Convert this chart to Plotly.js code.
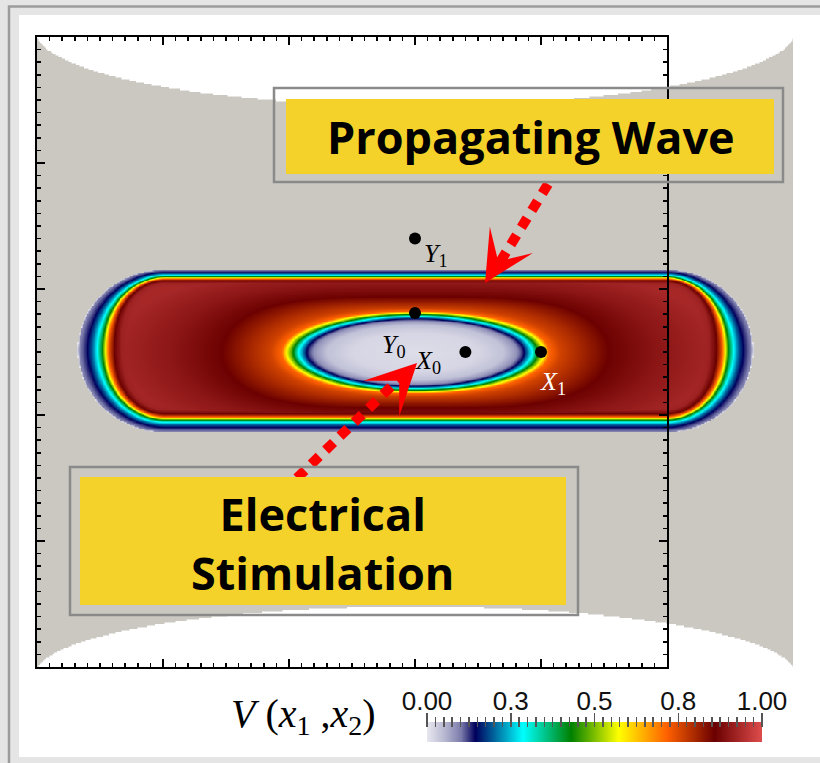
<!DOCTYPE html>
<html>
<head>
<meta charset="utf-8">
<script src="https://cdn.plot.ly/plotly-3.0.1.min.js"></script>
<style>
  html, body { margin: 0; padding: 0; background: #e5e5e5; }
  #chart { width: 820px; height: 763px; }
</style>
</head>
<body>
<div id="chart"></div>
<script>
// ---------------- field description (model units) ----------------
const DOMAIN_X = [0, 6];
const DOMAIN_Y = [0, 5];
const STEP = 0.0125;
// value used for points that lie outside the tissue sheet
const OUTSIDE = -0.1;

// curved notches cut from the top and bottom edges of the sheet: centre x, centre y, semi-axis x, semi-axis y
const TOP_NOTCH = [3.0, 5.053, 3.016, 0.594];
const BOTTOM_NOTCH = [3.0, -0.056, 3.016, 0.54];

// outer (propagating) front: stadium outline of its leading edge
const FRONT_CENTER = [3.0, 2.52];
const FRONT_HALF_HEIGHT = 0.615;
const FRONT_HALF_STRAIGHT = 1.988;
const FRONT_WIDTH_ENDS = 1.0;
const FRONT_WIDTH_TOP = 0.3;
const FRONT_WIDTH_BOTTOM = 0.5;
// potential across the front vs. depth behind the leading edge
const frontDepth = [-0.1, -0.075, -0.07, -0.04, 0.0, 0.04, 0.079, 0.119, 0.143, 0.167, 0.19, 0.214, 0.278, 0.4];
const frontV     = [0.0,  0.0,    0.09,  0.11, 0.14, 0.2, 0.285, 0.43, 0.57, 0.71, 0.79, 0.86, 0.92, 0.93];

// recovered core around the stimulation site (elliptical ring)
const CORE_CENTER = [3.0, 2.5];
const CORE_AXES = [1.0, 0.31];
const CORE_GROWTH_Y = 0.24;
// potential vs. offset from the ring
const coreOffset = [-1.0, -0.5, -0.3, -0.2, -0.14, -0.075, -0.03, 0.02, 0.06, 0.15, 0.35, 0.55, 0.9, 1.4];
const coreV      = [0.012, 0.02, 0.04, 0.08, 0.14, 0.285, 0.43, 0.57, 0.71, 0.76, 0.81, 0.86, 0.895, 0.93];

// probe points
const pointX = [3.0, 3.0, 3.4, 4.0];
const pointY = [3.4, 2.81, 2.5, 2.5];
const pointLabel = ['<i>Y</i><sub>1</sub>', '<i>Y</i><sub>0</sub>', '<i>X</i><sub>0</sub>', '<i>X</i><sub>1</sub>'];

// colour bar ticks
const barTickVals = [0, 0.25, 0.5, 0.75, 1.0];
const barTickText = ['0.00', '0.3', '0.5', '0.8', '1.00'];

// ---------------- colour map ----------------
const rainbow = [
  [0.0, '#e6e6ee'], [0.05, '#b8b8d2'], [0.1, '#7c7cac'], [0.143, '#00005c'],
  [0.214, '#0080ae'], [0.285, '#00ffff'], [0.429, '#008000'], [0.571, '#ffff00'],
  [0.714, '#ff6100'], [0.857, '#6b0000'], [1.0, '#e04d4d']
];
// field scale spans [OUTSIDE, 1]: blank paper outside the sheet, neutral sheet colour at rest (V = 0)
const ZMIN = OUTSIDE, ZMAX = 1;
const norm = v => (v - ZMIN) / (ZMAX - ZMIN);
const fieldScale = [[0, '#ffffff'], [norm(0), '#cac8c0'], [norm(0.003), '#e6e6ee']]
  .concat(rainbow.slice(1).map(s => [norm(s[0]), s[1]]));

// ---------------- helpers ----------------
function lookup(xs, ys, v) {
  if (v <= xs[0]) return ys[0];
  for (let k = 1; k < xs.length; k++) {
    if (v <= xs[k]) {
      const f = (v - xs[k - 1]) / (xs[k] - xs[k - 1]);
      return ys[k - 1] + f * (ys[k] - ys[k - 1]);
    }
  }
  return ys[ys.length - 1];
}
function inNotch(n, x, y) {
  const u = (x - n[0]) / n[2], w = (y - n[1]) / n[3];
  return u * u + w * w < 1;
}
function frontDepthAt(x, y) {
  const dx = Math.abs(x - FRONT_CENTER[0]);
  const dy = y - FRONT_CENTER[1];
  const wtb = dy > 0 ? FRONT_WIDTH_TOP : FRONT_WIDTH_BOTTOM;
  if (dx <= FRONT_HALF_STRAIGHT) return (FRONT_HALF_HEIGHT - Math.abs(dy)) / wtb;
  const ex = dx - FRONT_HALF_STRAIGHT;
  const rho = Math.hypot(ex, dy);
  const c2 = rho > 0 ? (ex * ex) / (rho * rho) : 1;
  const w = FRONT_WIDTH_ENDS * c2 + wtb * (1 - c2);
  return (FRONT_HALF_HEIGHT - rho) / w;
}
function coreOffsetAt(x, y) {
  const dx = Math.abs(x - CORE_CENTER[0]);
  const dy = Math.abs(y - CORE_CENTER[1]);
  const r = Math.hypot(dx / CORE_AXES[0], dy / CORE_AXES[1]);
  if (r <= 1) return r - 1;
  // nested level curves that widen and square off away from the ring
  const f = t => {
    const a = CORE_AXES[0] + t, b = CORE_AXES[1] + CORE_GROWTH_Y * t;
    const p = 2 + 4 * Math.min(t, 0.5);
    return Math.pow(dx / a, p) + (dy / b) * (dy / b) - 1;
  };
  let lo = 0, hi = 6;
  for (let k = 0; k < 34; k++) {
    const mid = 0.5 * (lo + hi);
    if (f(mid) > 0) lo = mid; else hi = mid;
  }
  return 0.5 * (lo + hi);
}

// ---------------- sample the field ----------------
const xs = [], ys = [];
const nx = Math.round((DOMAIN_X[1] - DOMAIN_X[0]) / STEP);
const ny = Math.round((DOMAIN_Y[1] - DOMAIN_Y[0]) / STEP);
for (let i = 0; i <= nx; i++) xs.push(DOMAIN_X[0] + i * STEP);
for (let j = 0; j <= ny; j++) ys.push(DOMAIN_Y[0] + j * STEP);
const z = ys.map(y => xs.map(x => {
  if (inNotch(TOP_NOTCH, x, y) || inNotch(BOTTOM_NOTCH, x, y)) return OUTSIDE;
  const vFront = lookup(frontDepth, frontV, frontDepthAt(x, y));
  if (vFront <= 0) return 0;
  const vCore = lookup(coreOffset, coreV, coreOffsetAt(x, y));
  return Math.min(vFront, vCore);
}));

// ---------------- page geometry ----------------
const W = 820, H = 763;
const PX = v => v / W;
const PY = v => 1 - v / H;

const traces = [
  {
    type: 'heatmap', x: xs, y: ys, z: z,
    colorscale: fieldScale, zmin: ZMIN, zmax: ZMAX, zsmooth: 'best',
    showscale: false, hoverinfo: 'skip', xaxis: 'x', yaxis: 'y'
  },
  {
    type: 'scatter', mode: 'markers', x: pointX, y: pointY,
    marker: { size: 12, color: '#000000' },
    hoverinfo: 'skip', xaxis: 'x2', yaxis: 'y2'
  },
  {
    type: 'heatmap', x: [0, 1], y: [0, 1], z: [[0, 1], [0, 1]],
    colorscale: rainbow, zmin: 0, zmax: 1, zsmooth: 'best',
    showscale: false, hoverinfo: 'skip', xaxis: 'x3', yaxis: 'y3'
  }
];

const boxAxis = {
  range: [0, 5], showline: true, linecolor: '#000000', linewidth: 2,
  mirror: 'allticks', ticks: 'inside', ticklen: 8, tickwidth: 2, tickcolor: '#000000',
  tick0: 0, dtick: 1, showticklabels: false, showgrid: false, zeroline: false,
  minor: { ticks: 'inside', tick0: 0, dtick: 0.1, ticklen: 4, tickwidth: 1.5, tickcolor: '#000000', showgrid: false }
};

const labelShift = [[7, -16], [-35, -33], [-52, -10], [-3, -31]];
const labelColor = ['#000000', '#000000', '#000000', '#ffffff'];

const annotations = pointLabel.map((t, i) => ({
  xref: 'x2', yref: 'y2', x: pointX[i], y: pointY[i], text: t, showarrow: false,
  xanchor: 'left', yanchor: 'middle', xshift: labelShift[i][0], yshift: labelShift[i][1],
  font: { family: 'Liberation Serif', size: 26, color: labelColor[i] }
}));

annotations.push(
  { xref: 'paper', yref: 'paper', x: PX(531), y: PY(136), text: '<b>Propagating Wave</b>', showarrow: false,
    xanchor: 'center', yanchor: 'middle', font: { family: 'Open Sans', size: 45, color: '#000000' } },
  { xref: 'paper', yref: 'paper', x: PX(322), y: PY(543), text: '<b>Electrical</b><br><b>Stimulation</b>', showarrow: false,
    xanchor: 'center', yanchor: 'middle', font: { family: 'Open Sans', size: 45, color: '#000000' } },
  { xref: 'paper', yref: 'paper', x: PX(303), y: PY(716),
    text: '<i>V</i> (<i>x</i><sub>1</sub> ,<i>x</i><sub>2</sub>)', showarrow: false,
    xanchor: 'center', yanchor: 'middle', font: { family: 'Liberation Serif', size: 40, color: '#000000' } },
  // arrow heads
  { xref: 'x', yref: 'y', x: 3.016, y: 2.413, ax: -15, ay: 15, text: '', showarrow: true,
    arrowhead: 3, arrowsize: 2.8, arrowwidth: 3, arrowcolor: '#ff0000' },
  { xref: 'x', yref: 'y', x: 3.556, y: 3.048, ax: 11, ay: -18, text: '', showarrow: true,
    arrowhead: 3, arrowsize: 2.8, arrowwidth: 3, arrowcolor: '#ff0000' }
);

const shapes = [
  { type: 'rect', xref: 'paper', yref: 'paper', x0: PX(19), x1: PX(900), y0: PY(757), y1: PY(15),
    fillcolor: '#ffffff', line: { width: 0 }, layer: 'below' },
  { type: 'rect', xref: 'paper', yref: 'paper', x0: PX(9), x1: PX(1000), y0: PY(1000), y1: PY(6.5),
    fillcolor: 'rgba(0,0,0,0)', line: { color: '#9c9c9c', width: 2.5 }, layer: 'below' },
  // dotted arrow shafts
  { type: 'line', xref: 'x', yref: 'y', x0: 2.063, y0: 1.5, x1: 2.881, y1: 2.294,
    line: { color: '#ff0000', width: 10, dash: '11px,9px' }, layer: 'above' },
  { type: 'line', xref: 'x', yref: 'y', x0: 4.056, y0: 3.833, x1: 3.675, y1: 3.214,
    line: { color: '#ff0000', width: 10, dash: '11px,9px' }, layer: 'above' },
  // callout boxes
  { type: 'rect', xref: 'paper', yref: 'paper', x0: PX(274), x1: PX(783), y0: PY(182), y1: PY(88),
    fillcolor: 'rgba(0,0,0,0)', line: { color: '#8a8a8a', width: 2.5 }, layer: 'above' },
  { type: 'rect', xref: 'paper', yref: 'paper', x0: PX(286), x1: PX(774), y0: PY(174), y1: PY(99),
    fillcolor: '#f4d229', line: { width: 0 }, layer: 'above' },
  { type: 'rect', xref: 'paper', yref: 'paper', x0: PX(70), x1: PX(578), y0: PY(615), y1: PY(467),
    fillcolor: 'rgba(0,0,0,0)', line: { color: '#8a8a8a', width: 2.5 }, layer: 'above' },
  { type: 'rect', xref: 'paper', yref: 'paper', x0: PX(80), x1: PX(566), y0: PY(605), y1: PY(477),
    fillcolor: '#f4d229', line: { width: 0 }, layer: 'above' }
];

const layout = {
  width: W, height: H,
  margin: { l: 0, r: 0, t: 0, b: 0 },
  paper_bgcolor: '#e5e5e5', plot_bgcolor: 'rgba(0,0,0,0)',
  showlegend: false,
  xaxis: { domain: [PX(37), PX(793)], range: DOMAIN_X, visible: false, fixedrange: true },
  yaxis: { domain: [PY(667), PY(37)], range: DOMAIN_Y, visible: false, fixedrange: true },
  xaxis2: Object.assign({ domain: [PX(37), PX(667)], anchor: 'y2' }, boxAxis),
  yaxis2: Object.assign({ domain: [PY(667), PY(37)], anchor: 'x2' }, boxAxis),
  xaxis3: {
    domain: [PX(427), PX(762)], range: [0, 1], anchor: 'free', position: PY(727), side: 'top',
    tickmode: 'array', tickvals: barTickVals, ticktext: barTickText,
    ticks: 'outside', ticklen: 14, tickwidth: 1.5, tickcolor: '#555555',
    minor: { ticks: 'outside', tickmode: 'linear', tick0: 0, dtick: 0.025, ticklen: 10, tickwidth: 1.5, tickcolor: '#555555' },
    tickfont: { family: 'Liberation Sans', size: 26, color: '#111111' },
    ticklabelstandoff: -7,
    showgrid: false, zeroline: false, showline: false
  },
  yaxis3: { domain: [PY(742), PY(722)], range: [0, 1], anchor: 'x3', visible: false },
  shapes: shapes,
  annotations: annotations
};

Plotly.newPlot('chart', traces, layout, { staticPlot: true, displayModeBar: false });
</script>
</body>
</html>
